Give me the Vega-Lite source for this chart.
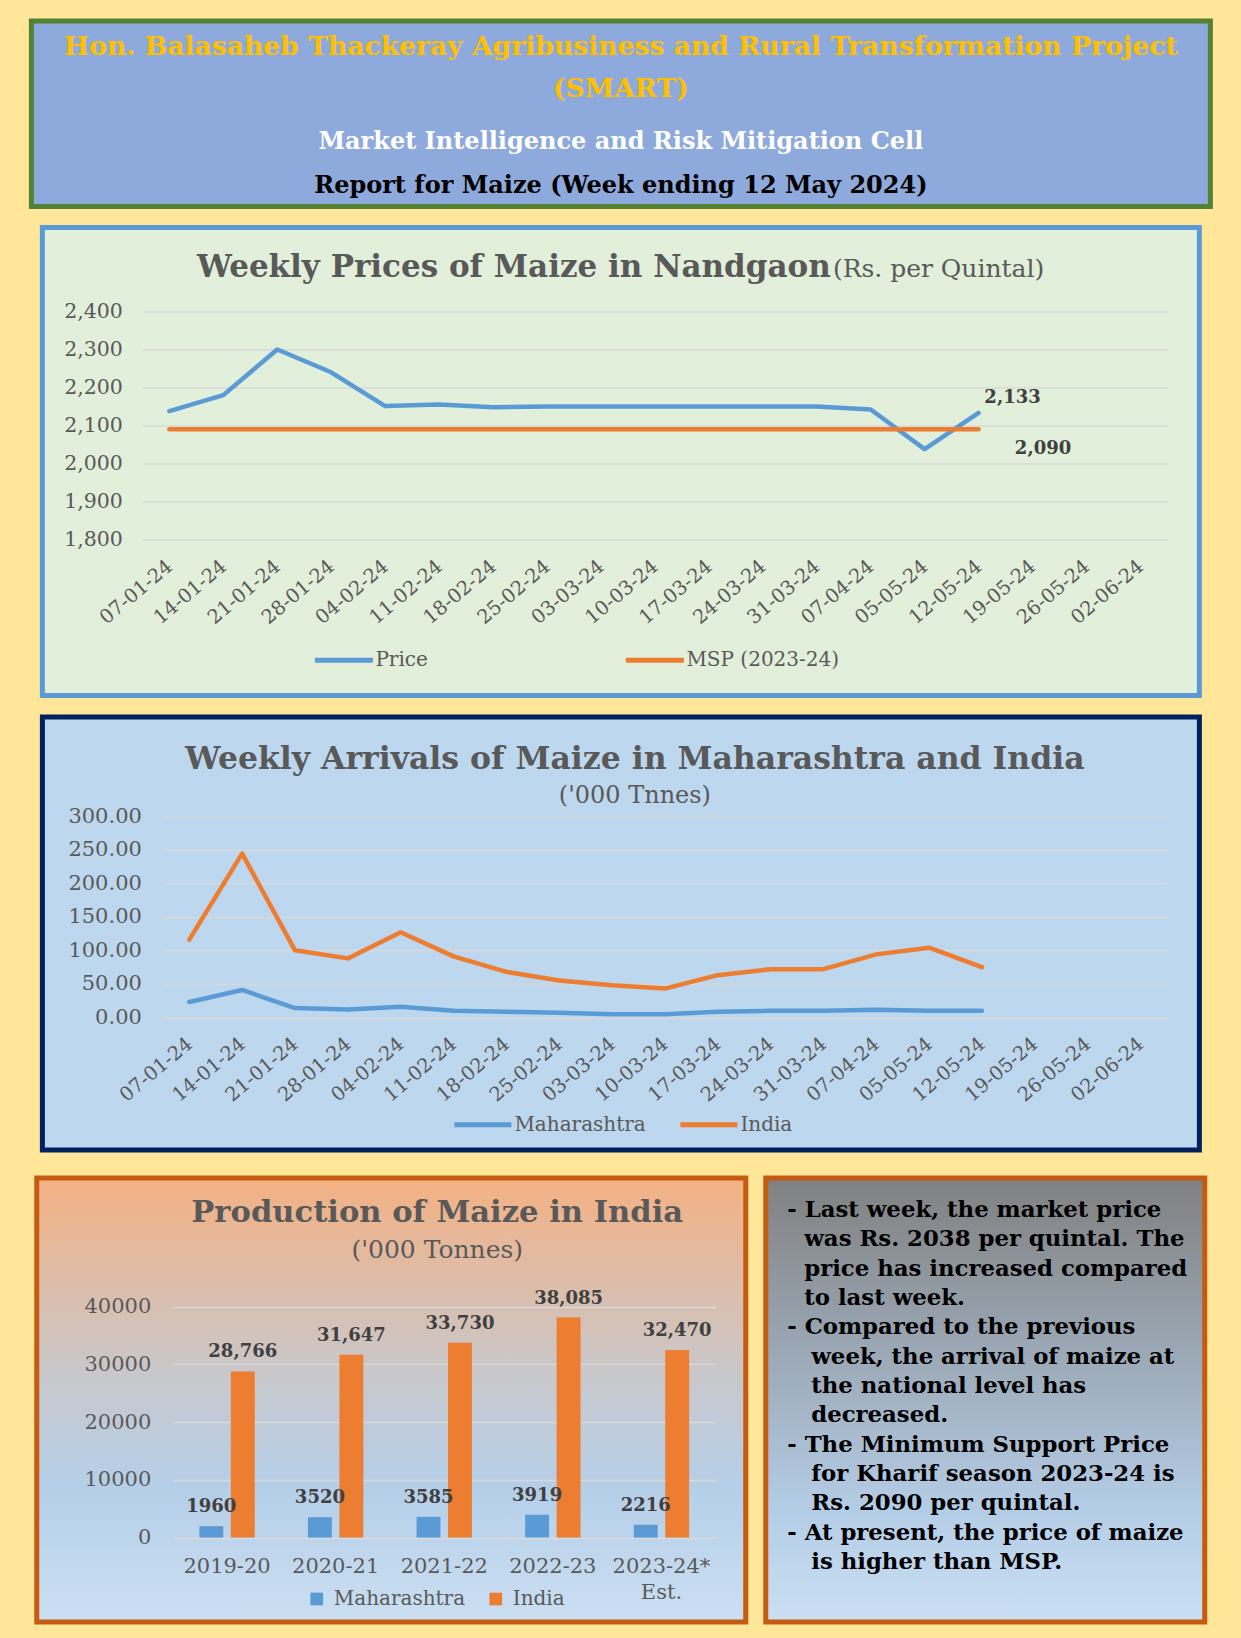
{
  "$schema": "https://vega.github.io/schema/vega-lite/v6.json",
  "background": "#FFE699",
  "padding": {"left": 28, "top": 18, "right": 29, "bottom": 14},
  "spacing": 22,
  "center": true,
  "resolve": {"scale": {"color": "independent"}, "legend": {"color": "independent"}},
  "vconcat": [
    {
      "spacing": 15.5,
      "center": true,
      "resolve": {"scale": {"color": "independent"}, "legend": {"color": "independent"}},
      "vconcat": [
        {
          "width": 1179,
          "height": 185.5,
          "view": {"fill": "#8EA9DB", "stroke": "#548235", "strokeWidth": 5},
          "data": {"values": [
            {"line": 1, "role": "project", "text": "Hon. Balasaheb Thackeray Agribusiness and Rural Transformation Project"},
            {"line": 2, "role": "acronym", "text": "(SMART)"},
            {"line": 3, "role": "cell", "text": "Market Intelligence and Risk Mitigation Cell"},
            {"line": 4, "role": "report", "text": "Report for Maize (Week ending 12 May 2024)"}
          ]},
          "encoding": {
            "y": {"field": "line", "type": "ordinal", "axis": null, "scale": {"type": "point", "padding": 0.5035, "align": 0.554}},
            "text": {"field": "text"}
          },
          "layer": [
            {"transform": [{"filter": "datum.role == 'project'"}],
             "mark": {"type": "text", "font": "DejaVu Serif", "fontWeight": "bold", "fontSize": 26.6, "color": "#FFC000", "baseline": "middle"}},
            {"transform": [{"filter": "datum.role == 'acronym'"}],
             "mark": {"type": "text", "font": "DejaVu Serif", "fontWeight": "bold", "fontSize": 26.6, "color": "#FFC000", "baseline": "middle", "dy": -4}},
            {"transform": [{"filter": "datum.role == 'cell'"}],
             "mark": {"type": "text", "font": "DejaVu Serif", "fontWeight": "bold", "fontSize": 24, "color": "#FFFFFF", "baseline": "middle", "dy": 2.7}},
            {"transform": [{"filter": "datum.role == 'report'"}],
             "mark": {"type": "text", "font": "DejaVu Serif", "fontWeight": "bold", "fontSize": 24, "color": "#000000", "baseline": "middle"}}
          ]
        },
        {
          "width": 1157,
          "height": 468,
          "view": {"fill": "#E2EFDA", "stroke": "#5B9BD5", "strokeWidth": 5},
          "title": {"text": "Weekly Prices of Maize in Nandgaon", "anchor": "start", "dx": 154.5, "offset": -56.5, "fontSize": 31},
          "data": {"values": [
            {"week": "07-01-24", "Price": 2138, "MSP (2023-24)": 2090},
            {"week": "14-01-24", "Price": 2180, "MSP (2023-24)": 2090},
            {"week": "21-01-24", "Price": 2300, "MSP (2023-24)": 2090},
            {"week": "28-01-24", "Price": 2240, "MSP (2023-24)": 2090},
            {"week": "04-02-24", "Price": 2151, "MSP (2023-24)": 2090},
            {"week": "11-02-24", "Price": 2155, "MSP (2023-24)": 2090},
            {"week": "18-02-24", "Price": 2148, "MSP (2023-24)": 2090},
            {"week": "25-02-24", "Price": 2150, "MSP (2023-24)": 2090},
            {"week": "03-03-24", "Price": 2150, "MSP (2023-24)": 2090},
            {"week": "10-03-24", "Price": 2150, "MSP (2023-24)": 2090},
            {"week": "17-03-24", "Price": 2150, "MSP (2023-24)": 2090},
            {"week": "24-03-24", "Price": 2150, "MSP (2023-24)": 2090},
            {"week": "31-03-24", "Price": 2150, "MSP (2023-24)": 2090},
            {"week": "07-04-24", "Price": 2142, "MSP (2023-24)": 2090},
            {"week": "05-05-24", "Price": 2038, "MSP (2023-24)": 2090},
            {"week": "12-05-24", "Price": 2133, "MSP (2023-24)": 2090}
          ]},
          "transform": [{"fold": ["Price", "MSP (2023-24)"], "as": ["series", "value"]}],
          "encoding": {
            "x": {"field": "week", "type": "ordinal",
                  "scale": {"type": "point", "padding": 0.5, "range": [100, 1125],
                            "domain": ["07-01-24","14-01-24","21-01-24","28-01-24","04-02-24","11-02-24","18-02-24","25-02-24","03-03-24","10-03-24","17-03-24","24-03-24","31-03-24","07-04-24","05-05-24","12-05-24","19-05-24","26-05-24","02-06-24"]},
                  "axis": {"offset": -156, "labelAngle": -40, "labelAlign": "right", "labelBaseline": "middle", "labelPadding": 24, "labelFontSize": 19.5, "labelOverlap": false, "grid": false, "title": null}},
            "y": {"field": "value", "type": "quantitative",
                  "scale": {"domain": [1800, 2400], "range": [312, 84], "zero": false, "nice": false},
                  "axis": {"offset": -100, "values": [1800, 1900, 2000, 2100, 2200, 2300, 2400], "format": ",.0f", "labelPadding": 20, "labelFontSize": 20.5, "grid": true,
                           "title": "(Rs. per Quintal)", "titleAngle": 0, "titleX": 690, "titleY": 48.5, "titleAlign": "left", "titleBaseline": "alphabetic",
                           "titleFont": "DejaVu Serif", "titleFontSize": 25, "titleFontWeight": "normal", "titleColor": "#595959"}}
          },
          "layer": [
            {"mark": {"type": "line", "strokeWidth": 4.5, "strokeJoin": "round", "strokeCap": "round"},
             "encoding": {"color": {"field": "series", "type": "nominal",
                                    "scale": {"domain": ["Price", "MSP (2023-24)"], "range": ["#5B9BD5", "#ED7D31"]},
                                    "legend": {"orient": "none", "legendX": 270, "legendY": 401, "direction": "horizontal", "title": null,
                                               "symbolType": "stroke", "symbolSize": 3364, "symbolStrokeWidth": 5, "columnPadding": 187, "labelOffset": 0}}}},
            {"transform": [{"filter": "datum.week == '12-05-24' && datum.series == 'Price'"}],
             "mark": {"type": "text", "font": "DejaVu Serif", "fontWeight": "bold", "fontSize": 18, "color": "#404040", "dx": 34, "dy": -9.5, "baseline": "alphabetic"},
             "encoding": {"text": {"field": "value", "format": ","}}},
            {"transform": [{"filter": "datum.week == '12-05-24' && datum.series == 'MSP (2023-24)'"}],
             "mark": {"type": "text", "font": "DejaVu Serif", "fontWeight": "bold", "fontSize": 18, "color": "#404040", "dx": 64.5, "dy": 24.4, "baseline": "alphabetic"},
             "encoding": {"text": {"field": "value", "format": ","}}}
          ]
        },
        {
          "width": 1157,
          "height": 433,
          "view": {"fill": "#BDD7EE", "stroke": "#002060", "strokeWidth": 5},
          "title": {"text": "Weekly Arrivals of Maize  in Maharashtra and India", "subtitle": "('000 Tnnes)", "anchor": "middle", "dx": 14, "offset": -90.7, "fontSize": 31.5, "subtitleFontSize": 24, "subtitlePadding": 8.6},
          "data": {"values": [
            {"week": "07-01-24", "Maharashtra": 23, "India": 116},
            {"week": "14-01-24", "Maharashtra": 41, "India": 244},
            {"week": "21-01-24", "Maharashtra": 14, "India": 100},
            {"week": "28-01-24", "Maharashtra": 12, "India": 88},
            {"week": "04-02-24", "Maharashtra": 16, "India": 127},
            {"week": "11-02-24", "Maharashtra": 10, "India": 91},
            {"week": "18-02-24", "Maharashtra": 8.5, "India": 68},
            {"week": "25-02-24", "Maharashtra": 7, "India": 55},
            {"week": "03-03-24", "Maharashtra": 5, "India": 48},
            {"week": "10-03-24", "Maharashtra": 5, "India": 43},
            {"week": "17-03-24", "Maharashtra": 8.5, "India": 63},
            {"week": "24-03-24", "Maharashtra": 10, "India": 72},
            {"week": "31-03-24", "Maharashtra": 10, "India": 72},
            {"week": "07-04-24", "Maharashtra": 11.5, "India": 94},
            {"week": "05-05-24", "Maharashtra": 10, "India": 104},
            {"week": "12-05-24", "Maharashtra": 10, "India": 75}
          ]},
          "transform": [{"fold": ["Maharashtra", "India"], "as": ["series", "value"]}],
          "mark": {"type": "line", "strokeWidth": 4.5, "strokeJoin": "round", "strokeCap": "round"},
          "encoding": {
            "x": {"field": "week", "type": "ordinal",
                  "scale": {"type": "point", "padding": 0.5, "range": [120.5, 1124.5],
                            "domain": ["07-01-24","14-01-24","21-01-24","28-01-24","04-02-24","11-02-24","18-02-24","25-02-24","03-03-24","10-03-24","17-03-24","24-03-24","31-03-24","07-04-24","05-05-24","12-05-24","19-05-24","26-05-24","02-06-24"]},
                  "axis": {"offset": -133, "labelAngle": -40, "labelAlign": "right", "labelBaseline": "middle", "labelPadding": 24, "labelFontSize": 19.5, "labelOverlap": false, "grid": false, "title": null}},
            "y": {"field": "value", "type": "quantitative",
                  "scale": {"domain": [0, 300], "range": [300.5, 99], "nice": false},
                  "axis": {"offset": -120.5, "values": [0, 50, 100, 150, 200, 250, 300], "format": ".2f", "labelPadding": 21.5, "labelFontSize": 21, "grid": true, "title": null}},
            "color": {"field": "series", "type": "nominal",
                      "scale": {"domain": ["Maharashtra", "India"], "range": ["#5B9BD5", "#ED7D31"]},
                      "legend": {"orient": "none", "legendX": 409, "legendY": 376, "direction": "horizontal", "title": null,
                                 "symbolType": "stroke", "symbolSize": 3250, "symbolStrokeWidth": 5, "columnPadding": 23, "labelOffset": 0}}
          }
        }
      ]
    },
    {
      "spacing": 14,
      "resolve": {"scale": {"color": "independent"}, "legend": {"color": "independent"}},
      "hconcat": [
        {
          "width": 709,
          "height": 444,
          "view": {"fill": {"gradient": "linear", "x1": 0, "y1": 0, "x2": 0, "y2": 1,
                            "stops": [{"offset": 0, "color": "#F4B183"}, {"offset": 0.45, "color": "#C8C8CC"}, {"offset": 0.7, "color": "#B5CFE9"}, {"offset": 1, "color": "#CBDFF2"}]},
                   "stroke": "#C55A11", "strokeWidth": 5},
          "title": {"text": "Production of Maize in India", "subtitle": "('000 Tonnes)", "anchor": "middle", "dx": 46, "offset": -84.5, "fontSize": 30.6, "subtitleFontSize": 25, "subtitlePadding": 8.5},
          "data": {"values": [
            {"year": "2019-20", "region": "Maharashtra", "value": 1960},
            {"year": "2019-20", "region": "India", "value": 28766},
            {"year": "2020-21", "region": "Maharashtra", "value": 3520},
            {"year": "2020-21", "region": "India", "value": 31647},
            {"year": "2021-22", "region": "Maharashtra", "value": 3585},
            {"year": "2021-22", "region": "India", "value": 33730},
            {"year": "2022-23", "region": "Maharashtra", "value": 3919},
            {"year": "2022-23", "region": "India", "value": 38085},
            {"year": "2023-24* Est.", "region": "Maharashtra", "value": 2216},
            {"year": "2023-24* Est.", "region": "India", "value": 32470}
          ]},
          "encoding": {
            "x": {"field": "year", "type": "nominal", "sort": null,
                  "scale": {"type": "band", "range": [136, 679], "paddingInner": 0.49, "paddingOuter": 0.245},
                  "axis": {"offset": -85, "labelAngle": 0, "labelPadding": 18, "labelFontSize": 21, "labelLineHeight": 26, "grid": false, "title": null,
                           "labelExpr": "datum.value == '2023-24* Est.' ? ['2023-24*', 'Est.'] : datum.label"}},
            "xOffset": {"field": "region", "type": "nominal", "scale": {"domain": ["Maharashtra", "India"], "paddingInner": 0.24}},
            "y": {"field": "value", "type": "quantitative",
                  "scale": {"domain": [0, 40000], "range": [359.5, 128.5], "nice": false},
                  "axis": {"offset": -136, "values": [0, 10000, 20000, 30000, 40000], "format": "d", "labelPadding": 22, "labelFontSize": 21, "grid": true, "title": null}}
          },
          "layer": [
            {"mark": {"type": "bar"},
             "encoding": {"color": {"field": "region", "type": "nominal",
                                    "scale": {"domain": ["Maharashtra", "India"], "range": ["#5B9BD5", "#ED7D31"]},
                                    "legend": {"orient": "none", "legendX": 270, "legendY": 411, "direction": "horizontal", "title": null,
                                               "symbolType": "square", "symbolSize": 160, "symbolStrokeWidth": 0, "columnPadding": 20, "labelOffset": 7}}}},
            {"transform": [{"filter": "datum.region == 'India'"}],
             "mark": {"type": "text", "font": "DejaVu Serif", "fontWeight": "bold", "fontSize": 18, "color": "#404040", "dy": -14, "baseline": "alphabetic"},
             "encoding": {"text": {"field": "value", "format": ","}}},
            {"transform": [{"filter": "datum.region == 'Maharashtra'"}],
             "mark": {"type": "text", "font": "DejaVu Serif", "fontWeight": "bold", "fontSize": 18, "color": "#404040", "dy": -14, "baseline": "alphabetic"},
             "encoding": {"text": {"field": "value", "format": "d"}}}
          ]
        },
        {
          "width": 439,
          "height": 444,
          "view": {"fill": {"gradient": "linear", "x1": 0, "y1": 0, "x2": 0, "y2": 1,
                            "stops": [{"offset": 0, "color": "#808080"}, {"offset": 0.5, "color": "#A3B3C4"}, {"offset": 0.75, "color": "#B4CDE6"}, {"offset": 1, "color": "#CADFF2"}]},
                   "stroke": "#C55A11", "strokeWidth": 5},
          "data": {"values": [
            {"line": 1, "kind": "bullet", "text": "- Last week, the market price"},
            {"line": 2, "kind": "wrap1", "text": "was Rs. 2038 per quintal.  The"},
            {"line": 3, "kind": "wrap1", "text": "price has increased compared"},
            {"line": 4, "kind": "wrap1", "text": "to last week."},
            {"line": 5, "kind": "bullet", "text": "- Compared to the previous"},
            {"line": 6, "kind": "wrap2", "text": "week, the arrival of maize at"},
            {"line": 7, "kind": "wrap2", "text": "the national level has"},
            {"line": 8, "kind": "wrap2", "text": "decreased."},
            {"line": 9, "kind": "bullet", "text": "- The Minimum  Support Price"},
            {"line": 10, "kind": "wrap2", "text": "for Kharif season 2023-24 is"},
            {"line": 11, "kind": "wrap2", "text": "Rs. 2090 per quintal."},
            {"line": 12, "kind": "bullet", "text": "- At present, the price of maize"},
            {"line": 13, "kind": "wrap2", "text": "is higher than MSP."}
          ]},
          "encoding": {
            "y": {"field": "line", "type": "quantitative", "axis": null, "scale": {"domain": [-0.331, 14.8], "reverse": true, "nice": false, "zero": false}},
            "text": {"field": "text"}
          },
          "layer": [
            {"transform": [{"filter": "datum.kind == 'bullet'"}],
             "mark": {"type": "text", "align": "left", "baseline": "alphabetic", "dx": -198, "font": "DejaVu Serif", "fontWeight": "bold", "fontSize": 22.8, "color": "#000000"}},
            {"transform": [{"filter": "datum.kind == 'wrap1'"}],
             "mark": {"type": "text", "align": "left", "baseline": "alphabetic", "dx": -181, "font": "DejaVu Serif", "fontWeight": "bold", "fontSize": 22.8, "color": "#000000"}},
            {"transform": [{"filter": "datum.kind == 'wrap2'"}],
             "mark": {"type": "text", "align": "left", "baseline": "alphabetic", "dx": -174, "font": "DejaVu Serif", "fontWeight": "bold", "fontSize": 22.8, "color": "#000000"}}
          ]
        }
      ]
    }
  ],
  "config": {
    "font": "DejaVu Serif",
    "view": {"stroke": null},
    "axis": {"labelFont": "DejaVu Serif", "labelColor": "#595959", "domain": false, "ticks": false, "gridColor": "#D9D9D9", "gridWidth": 1.5},
    "legend": {"labelFont": "DejaVu Serif", "labelColor": "#595959", "labelFontSize": 20},
    "title": {"font": "DejaVu Serif", "fontWeight": "bold", "color": "#595959", "frame": "group", "subtitleFont": "DejaVu Serif", "subtitleColor": "#595959", "subtitleFontWeight": "normal"}
  }
}
